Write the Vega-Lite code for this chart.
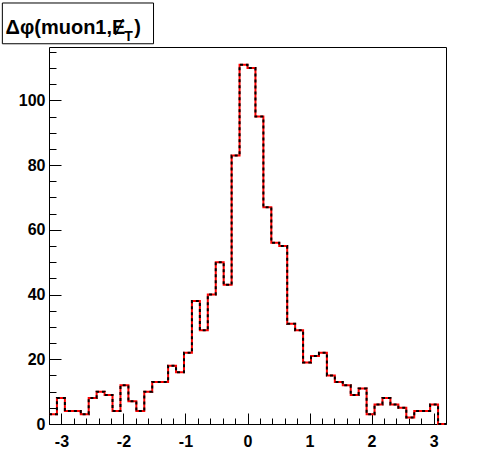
{
  "$schema": "https://vega.github.io/schema/vega-lite/v6.json",
  "width": 397,
  "height": 377,
  "autosize": {"type": "none"},
  "padding": {"left": 49, "top": 47, "right": 50, "bottom": 48},
  "background": "white",
  "config": {
    "view": {"stroke": "black", "strokeWidth": 1},
    "axis": {
      "labelFont": "Liberation Sans",
      "labelFontWeight": "bold",
      "labelFontSize": 16,
      "labelColor": "black",
      "tickColor": "black",
      "tickWidth": 1,
      "domain": false,
      "grid": false,
      "title": null,
      "labelOverlap": false,
      "labelFlush": false
    }
  },
  "datasets": {
    "hist": [
      {"x": -3.2, "n": 3}, {"x": -3.072, "n": 8}, {"x": -2.944, "n": 4}, {"x": -2.816, "n": 4},
      {"x": -2.688, "n": 3}, {"x": -2.56, "n": 8}, {"x": -2.432, "n": 10}, {"x": -2.304, "n": 9},
      {"x": -2.176, "n": 4}, {"x": -2.048, "n": 12}, {"x": -1.92, "n": 7}, {"x": -1.792, "n": 4},
      {"x": -1.664, "n": 10}, {"x": -1.536, "n": 13}, {"x": -1.408, "n": 13}, {"x": -1.28, "n": 18},
      {"x": -1.152, "n": 16}, {"x": -1.024, "n": 22}, {"x": -0.896, "n": 38}, {"x": -0.768, "n": 29},
      {"x": -0.64, "n": 40}, {"x": -0.512, "n": 50}, {"x": -0.384, "n": 43}, {"x": -0.256, "n": 83},
      {"x": -0.128, "n": 111}, {"x": 0, "n": 110}, {"x": 0.128, "n": 95}, {"x": 0.256, "n": 67},
      {"x": 0.384, "n": 56}, {"x": 0.512, "n": 55}, {"x": 0.64, "n": 31}, {"x": 0.768, "n": 29},
      {"x": 0.896, "n": 19}, {"x": 1.024, "n": 21}, {"x": 1.152, "n": 22}, {"x": 1.28, "n": 15},
      {"x": 1.408, "n": 13}, {"x": 1.536, "n": 12}, {"x": 1.664, "n": 9}, {"x": 1.792, "n": 11},
      {"x": 1.92, "n": 3}, {"x": 2.048, "n": 6}, {"x": 2.176, "n": 8}, {"x": 2.304, "n": 6},
      {"x": 2.432, "n": 5}, {"x": 2.56, "n": 2}, {"x": 2.688, "n": 4}, {"x": 2.816, "n": 4},
      {"x": 2.944, "n": 6}, {"x": 3.072, "n": 0}, {"x": 3.2, "n": 0}
    ],
    "label": [{"title": "Δφ(muon1,Ɇ", "sub": "T", "close": ")"}]
  },
  "resolve": {"axis": {"x": "independent", "y": "independent"}},
  "layer": [
    {
      "data": {"name": "hist"},
      "encoding": {
        "x": {
          "field": "x",
          "type": "quantitative",
          "scale": {"domain": [-3.2, 3.2], "nice": false, "zero": false},
          "axis": {
            "values": [-3.2, -3.0, -2.8, -2.6, -2.4, -2.2, -2.0, -1.8, -1.6, -1.4, -1.2, -1.0, -0.8, -0.6, -0.4, -0.2, 0, 0.2, 0.4, 0.6, 0.8, 1.0, 1.2, 1.4, 1.6, 1.8, 2.0, 2.2, 2.4, 2.6, 2.8, 3.0, 3.2],
            "tickSize": {"condition": {"test": "abs(datum.value - round(datum.value)) < 0.001", "value": -11}, "value": -6},
            "labelPadding": 20,
            "labelExpr": "abs(datum.value - round(datum.value)) < 0.001 ? '' + round(datum.value) : ''"
          }
        },
        "y": {
          "field": "n",
          "type": "quantitative",
          "scale": {"domain": [0, 116.5], "nice": false, "zero": false},
          "axis": {
            "values": [0, 5, 10, 15, 20, 25, 30, 35, 40, 45, 50, 55, 60, 65, 70, 75, 80, 85, 90, 95, 100, 105, 110, 115],
            "tickSize": {"condition": {"test": "datum.value % 20 == 0", "value": -12}, "value": -7},
            "labelPadding": 16,
            "labelExpr": "datum.value % 20 == 0 ? '' + datum.value : ''"
          }
        }
      },
      "layer": [
        {"mark": {"type": "line", "interpolate": "step-after", "color": "#ff0000", "strokeWidth": 2}},
        {"mark": {"type": "line", "interpolate": "step-after", "color": "black", "strokeWidth": 2, "strokeDash": [3, 3]}}
      ]
    },
    {
      "data": {"name": "label"},
      "layer": [
        {
          "mark": {"type": "rect", "fill": "white", "stroke": "black", "strokeWidth": 1, "clip": false},
          "encoding": {
            "x": {"datum": -3.952, "type": "quantitative", "axis": null, "scale": {"domain": [-3.2, 3.2], "nice": false, "zero": false}},
            "x2": {"datum": -1.515},
            "y": {"datum": 130.1, "type": "quantitative", "axis": null, "scale": {"domain": [0, 116.5], "nice": false, "zero": false}},
            "y2": {"datum": 117.5}
          }
        },
        {
          "mark": {"type": "text", "align": "left", "baseline": "alphabetic", "font": "Liberation Sans", "fontWeight": "bold", "fontSize": 20, "color": "black", "clip": false},
          "encoding": {
            "x": {"datum": -3.9, "type": "quantitative", "axis": null, "scale": {"domain": [-3.2, 3.2], "nice": false, "zero": false}},
            "y": {"datum": 120.6, "type": "quantitative", "axis": null, "scale": {"domain": [0, 116.5], "nice": false, "zero": false}},
            "text": {"field": "title"}
          }
        },
        {
          "mark": {"type": "text", "align": "left", "baseline": "alphabetic", "font": "Liberation Sans", "fontWeight": "bold", "fontSize": 14, "color": "black", "clip": false},
          "encoding": {
            "x": {"datum": -1.985, "type": "quantitative", "axis": null, "scale": {"domain": [-3.2, 3.2], "nice": false, "zero": false}},
            "y": {"datum": 118.2, "type": "quantitative", "axis": null, "scale": {"domain": [0, 116.5], "nice": false, "zero": false}},
            "text": {"field": "sub"}
          }
        },
        {
          "mark": {"type": "text", "align": "left", "baseline": "alphabetic", "font": "Liberation Sans", "fontWeight": "bold", "fontSize": 20, "color": "black", "clip": false},
          "encoding": {
            "x": {"datum": -1.825, "type": "quantitative", "axis": null, "scale": {"domain": [-3.2, 3.2], "nice": false, "zero": false}},
            "y": {"datum": 120.6, "type": "quantitative", "axis": null, "scale": {"domain": [0, 116.5], "nice": false, "zero": false}},
            "text": {"field": "close"}
          }
        }
      ]
    }
  ]
}
